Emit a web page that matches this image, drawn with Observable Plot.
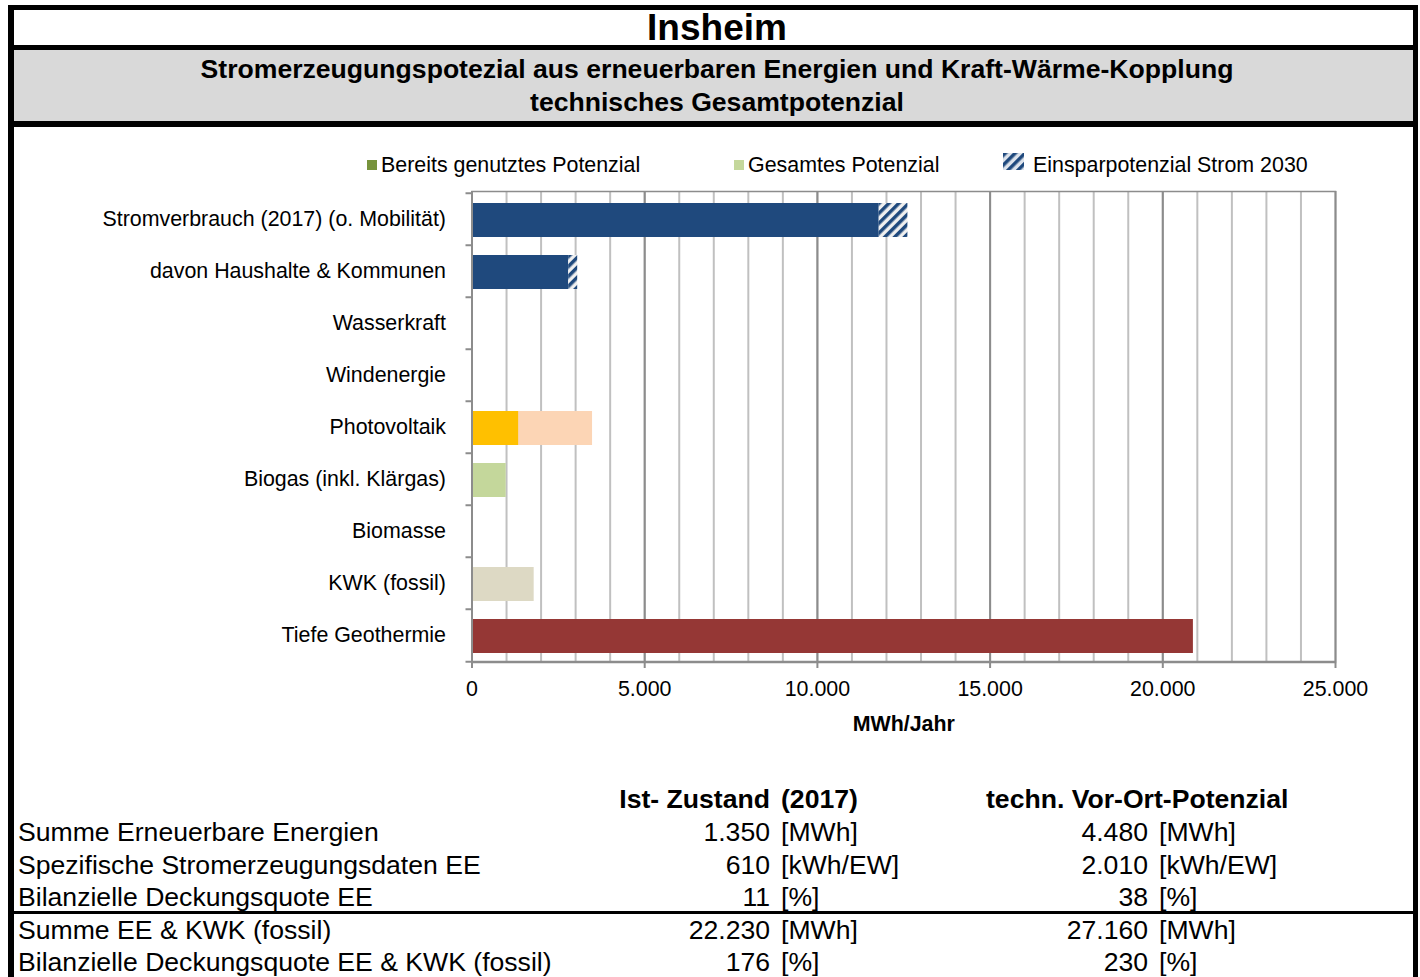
<!DOCTYPE html>
<html><head><meta charset="utf-8">
<script src="https://cdn.jsdelivr.net/npm/d3@7"></script>
<script src="https://cdn.jsdelivr.net/npm/@observablehq/plot@0.6"></script>
<style>
body{margin:0;background:#fff;font-family:Arial,"Liberation Sans",sans-serif;color:#000;}
#page{position:relative;width:1420px;height:977px;overflow:hidden;background:#fff;}
.abs{position:absolute;white-space:nowrap;}
.blk{position:absolute;background:#000;}
#chart{position:absolute;left:0;top:179px;}
g[aria-label="x-axis label"] text{font-weight:bold;}
.leg{position:absolute;font-size:21.4px;line-height:24px;top:153px;white-space:nowrap;}
.sw{display:inline-block;width:10px;height:10px;position:absolute;top:7px;}
.tr{position:absolute;font-size:26.6px;line-height:32.5px;white-space:nowrap;}
</style></head><body><div id="page"></div>
<script>
// ---------- data ----------
const title = "Insheim";
const subtitle = ["Stromerzeugungspotezial aus erneuerbaren Energien und Kraft-Wärme-Kopplung", "technisches Gesamtpotenzial"];
const categories = ["Stromverbrauch (2017) (o. Mobilität)", "davon Haushalte & Kommunen", "Wasserkraft", "Windenergie", "Photovoltaik", "Biogas (inkl. Klärgas)", "Biomasse", "KWK (fossil)", "Tiefe Geothermie"];
const verbrauch = [12620, 3060, 0, 0, 0, 0, 0, 0, 0];      // MWh/Jahr
const einsparung = [830, 260, 0, 0, 0, 0, 0, 0, 0];        // Einsparpotenzial 2030
const genutzt = [0, 0, 0, 0, 1350, 0, 0, 0, 20880];        // bereits genutzt
const gesamt = [0, 0, 0, 0, 3490, 990, 0, 1800, 20880];    // gesamtes Potenzial
const xTicks = [0, 5000, 10000, 15000, 20000, 25000];
const legendLabels = ["Bereits genutztes Potenzial", "Gesamtes Potenzial", "Einsparpotenzial Strom 2030"];
const axisLabel = "MWh/Jahr";
const tableHeads = ["Ist- Zustand", "(2017)", "techn. Vor-Ort-Potenzial"];
const tableLabels = ["Summe Erneuerbare Energien", "Spezifische Stromerzeugungsdaten EE", "Bilanzielle Deckungsquote EE", "Summe EE & KWK (fossil)", "Bilanzielle Deckungsquote EE & KWK (fossil)"];
const istWerte = [1350, 610, 11, 22230, 176];
const potWerte = [4480, 2010, 38, 27160, 230];
const units = ["[MWh]", "[kWh/EW]", "[%]", "[MWh]", "[%]"];

// ---------- styles ----------
const colGenutzt = {"Photovoltaik": "#ffc000", "Biogas (inkl. Klärgas)": "#77933c", "KWK (fossil)": "#948a54", "Tiefe Geothermie": "#953735"};
const colGesamt = {"Photovoltaik": "#fcd5b5", "Biogas (inkl. Klärgas)": "#c4d79b", "KWK (fossil)": "#ddd9c4", "Tiefe Geothermie": "#953735"};
const blue = "#1f497d";

const de = d3.formatLocale({decimal: ",", thousands: ".", grouping: [3], currency: ["", "€"]});
const fmt = de.format(",d");

const page = document.getElementById("page");
function add(html){ page.insertAdjacentHTML("beforeend", html); }

// frame
add(`<div class="blk" style="left:8px;top:5px;width:1410px;height:5px"></div>`);
add(`<div class="blk" style="left:8px;top:5px;width:6px;height:972px"></div>`);
add(`<div class="blk" style="left:1413px;top:5px;width:5px;height:972px"></div>`);
add(`<div class="blk" style="left:8px;top:45px;width:1410px;height:5px"></div>`);
add(`<div style="position:absolute;left:14px;top:50px;width:1399px;height:71px;background:#d9d9d9"></div>`);
add(`<div class="blk" style="left:8px;top:121px;width:1410px;height:6px"></div>`);
add(`<div class="blk" style="left:14px;top:911px;width:1399px;height:3px"></div>`);

// titles
add(`<div class="abs" style="left:14px;width:1406px;top:10px;height:35px;line-height:35px;text-align:center;font-weight:bold;font-size:37px">${title}</div>`);
add(`<div class="abs" style="left:14px;width:1406px;top:53px;line-height:33px;text-align:center;font-weight:bold;font-size:26.6px">${subtitle[0]}<br>${subtitle[1]}</div>`);

// legend
add(`<div class="leg" style="left:367px"><span class="sw" style="left:0;background:#77933c"></span><span style="margin-left:14px">${legendLabels[0]}</span></div>`);
add(`<div class="leg" style="left:734px"><span class="sw" style="left:0;background:#c4d79b"></span><span style="margin-left:14px">${legendLabels[1]}</span></div>`);
add(`<div class="leg" style="left:1003px"><svg width="21" height="17" style="position:absolute;left:0;top:0"><defs><pattern id="hatchL" patternUnits="userSpaceOnUse" width="7" height="7" patternTransform="rotate(45)"><rect width="7" height="7" fill="#dde3ec"/><rect width="3.5" height="7" fill="${blue}"/></pattern></defs><rect width="21" height="17" fill="url(#hatchL)"/></svg><span style="margin-left:30px">${legendLabels[2]}</span></div>`);

// chart
const rows = categories.map((c, i) => ({category: c, verbrauch: verbrauch[i], einsparung: einsparung[i], genutzt: genutzt[i], gesamt: gesamt[i]}));
const inset = {insetTop: 10, insetBottom: 8};
const chart = Plot.plot({
  width: 1420, height: 560,
  marginLeft: 471.5, marginRight: 85, marginTop: 12, marginBottom: 77,
  x: {domain: [0, 25000]},
  y: {domain: categories, padding: 0},
  color: {type: "identity"},
  style: {fontFamily: "Arial, 'Liberation Sans', sans-serif", fontSize: "21.4px", color: "#000", background: "transparent", overflow: "visible"},
  marks: [
    Plot.gridX({ticks: d3.range(1000, 25000, 1000), stroke: "#c0c0c0", strokeOpacity: 1, strokeWidth: 2}),
    Plot.gridX({ticks: xTicks, stroke: "#8c8c8c", strokeOpacity: 1, strokeWidth: 2}),
    Plot.frame({stroke: "#8c8c8c", strokeWidth: 1.5}),
    Plot.barX(rows.filter(d => d.gesamt > 0), {y: "category", x1: 0, x2: "gesamt", fill: d => colGesamt[d.category], ...inset}),
    Plot.barX(rows.filter(d => d.genutzt > 0), {y: "category", x1: 0, x2: "genutzt", fill: d => colGenutzt[d.category], ...inset}),
    Plot.barX(rows.filter(d => d.verbrauch > 0), {y: "category", x1: 0, x2: d => d.verbrauch - d.einsparung, fill: blue, ...inset}),
    Plot.barX(rows.filter(d => d.einsparung > 0), {y: "category", x1: d => d.verbrauch - d.einsparung, x2: "verbrauch", fill: "url(#hatch)", ...inset}),
    Plot.axisY({tickSize: 0, tickPadding: 26, label: null}),
    Plot.axisY({tickSize: 6, tickFormat: () => "", dy: -26.25, stroke: "#8c8c8c", strokeWidth: 2, label: null}),
    Plot.axisY([categories[categories.length - 1]], {tickSize: 6, tickFormat: () => "", dy: 26.25, stroke: "#8c8c8c", strokeWidth: 2, label: null}),
    Plot.axisX({ticks: xTicks, tickFormat: fmt, tickSize: 6, tickPadding: 12, stroke: "#8c8c8c", strokeWidth: 2, label: axisLabel, labelAnchor: "center", labelArrow: "none", labelOffset: 68}),
    Plot.ruleY([categories[categories.length - 1]], {dy: 26.25, stroke: "#8c8c8c", strokeWidth: 2}),
    Plot.ruleX([0], {stroke: "#8c8c8c", strokeWidth: 2})
  ]
});
chart.id = "chart";
const ns = "http://www.w3.org/2000/svg";
const defs = document.createElementNS(ns, "defs");
const pat = document.createElementNS(ns, "pattern");
pat.setAttribute("id", "hatch"); pat.setAttribute("patternUnits", "userSpaceOnUse");
pat.setAttribute("width", "7"); pat.setAttribute("height", "7"); pat.setAttribute("patternTransform", "rotate(45)");
const r1 = document.createElementNS(ns, "rect"); r1.setAttribute("width", "7"); r1.setAttribute("height", "7"); r1.setAttribute("fill", "#efefef");
const r2 = document.createElementNS(ns, "rect"); r2.setAttribute("width", "3.5"); r2.setAttribute("height", "7"); r2.setAttribute("fill", blue);
pat.appendChild(r1); pat.appendChild(r2); defs.appendChild(pat);
chart.insertBefore(defs, chart.firstChild);
page.appendChild(chart);

// table
add(`<div class="tr" style="left:470px;width:300px;top:783px;text-align:right;font-weight:bold">${tableHeads[0]}</div>`);
add(`<div class="tr" style="left:781px;top:783px;font-weight:bold">${tableHeads[1]}</div>`);
add(`<div class="tr" style="left:986px;top:783px;font-weight:bold">${tableHeads[2]}</div>`);
tableLabels.forEach((lab, i) => {
  const top = 816 + i * 32.5;
  add(`<div class="tr" style="left:18px;top:${top}px">${lab}</div>`);
  add(`<div class="tr" style="left:570px;width:200px;top:${top}px;text-align:right">${fmt(istWerte[i])}</div>`);
  add(`<div class="tr" style="left:781px;top:${top}px">${units[i]}</div>`);
  add(`<div class="tr" style="left:948px;width:200px;top:${top}px;text-align:right">${fmt(potWerte[i])}</div>`);
  add(`<div class="tr" style="left:1159px;top:${top}px">${units[i]}</div>`);
});
</script></body></html>
